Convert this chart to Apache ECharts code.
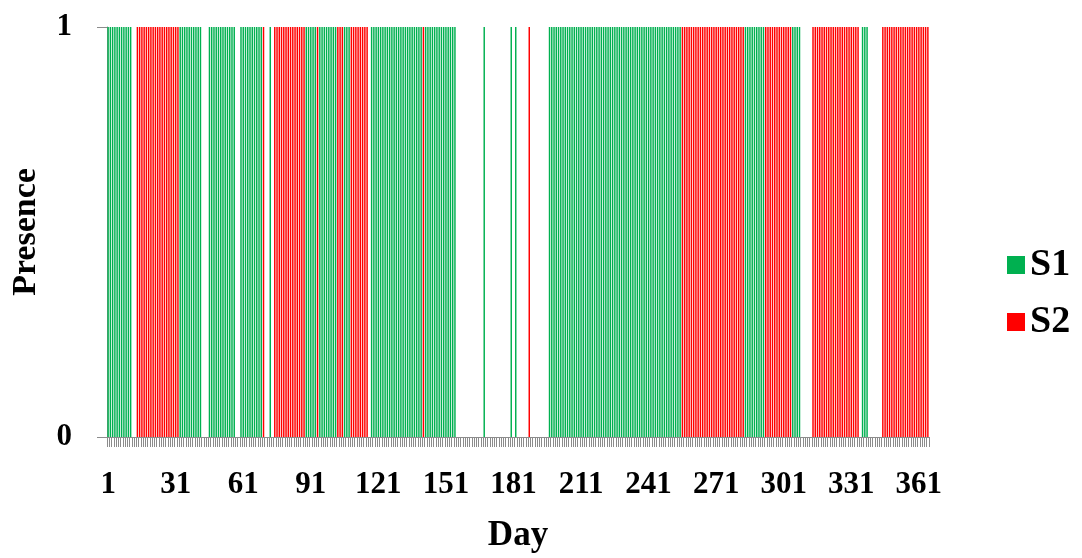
<!DOCTYPE html>
<html>
<head>
<meta charset="utf-8">
<script src="https://cdn.jsdelivr.net/npm/echarts@6/dist/echarts.min.js"></script>
<style>
  html, body { margin: 0; padding: 0; background: #ffffff; }
  #chart { width: 1082px; height: 558px; }
</style>
</head>
<body>
<div id="chart"></div>
<script>
// Days of the year on the x axis
const dayCount = 365;
const days = Array.from({ length: dayCount }, (_, i) => String(i + 1));

// Runs of consecutive days [first, last] on which each site is present
const s1Runs = [[1, 11], [33, 42], [46, 57], [60, 69], [73, 73], [89, 93], [95, 102],
  [106, 108], [118, 140], [142, 155], [168, 168], [180, 180], [182, 182],
  [197, 255], [284, 292], [305, 308], [336, 338]];
const s2Runs = [[14, 32], [70, 70], [75, 88], [94, 94], [103, 105], [109, 116],
  [141, 141], [188, 188], [256, 283], [293, 304], [314, 334], [345, 365]];

// Expand the runs into one presence value (1 or empty) per day
function presence(runs) {
  const out = days.map(() => '-');
  runs.forEach(([a, b]) => { for (let d = a; d <= b; d++) out[d - 1] = 1; });
  return out;
}
const s1 = presence(s1Runs);
const s2 = presence(s2Runs);

const font = 'Liberation Serif, Times New Roman, serif';
const axisGrey = '#8c8c8c';

const chart = echarts.init(document.getElementById('chart'), null, { renderer: 'canvas' });
chart.setOption({
  animation: false,
  backgroundColor: '#ffffff',
  grid: { left: 107, right: 153, top: 27, bottom: 114, containLabel: false },
  legend: {
    orient: 'vertical',
    left: 1002,
    top: 241,
    itemWidth: 18,
    itemHeight: 18,
    itemGap: 19,
    icon: 'rect',
    textStyle: { fontFamily: font, fontWeight: 'bold', fontSize: 38, color: '#000' },
    data: ['S1', 'S2']
  },
  xAxis: {
    type: 'category',
    data: days,
    name: 'Day',
    nameLocation: 'middle',
    nameGap: 81,
    nameTextStyle: { fontFamily: font, fontWeight: 'bold', fontSize: 35, color: '#000' },
    axisLine: { lineStyle: { color: axisGrey, width: 1 } },
    axisTick: { show: true, interval: 0, length: 10, lineStyle: { color: axisGrey, width: 1 } },
    axisLabel: { interval: 29, margin: 32, fontFamily: font, fontWeight: 'bold', fontSize: 31, color: '#000' },
    splitLine: { show: false }
  },
  yAxis: {
    type: 'value',
    min: 0,
    max: 1,
    interval: 1,
    name: 'Presence',
    nameLocation: 'middle',
    nameGap: 64,
    nameTextStyle: { fontFamily: font, fontWeight: 'bold', fontSize: 34, color: '#000' },
    axisLine: { show: true, lineStyle: { color: axisGrey, width: 1 } },
    axisTick: { show: true, length: 10, lineStyle: { color: axisGrey, width: 1 } },
    axisLabel: { margin: 35, fontFamily: font, fontWeight: 'bold', fontSize: 31, color: '#000' },
    splitLine: { show: false }
  },
  series: [
    { name: 'S1', type: 'bar', stack: 'p', data: s1, barCategoryGap: '35%',
      itemStyle: { color: '#00b050' } },
    { name: 'S2', type: 'bar', stack: 'p', data: s2, barCategoryGap: '35%',
      itemStyle: { color: '#ff0000' } }
  ]
});
</script>
</body>
</html>
